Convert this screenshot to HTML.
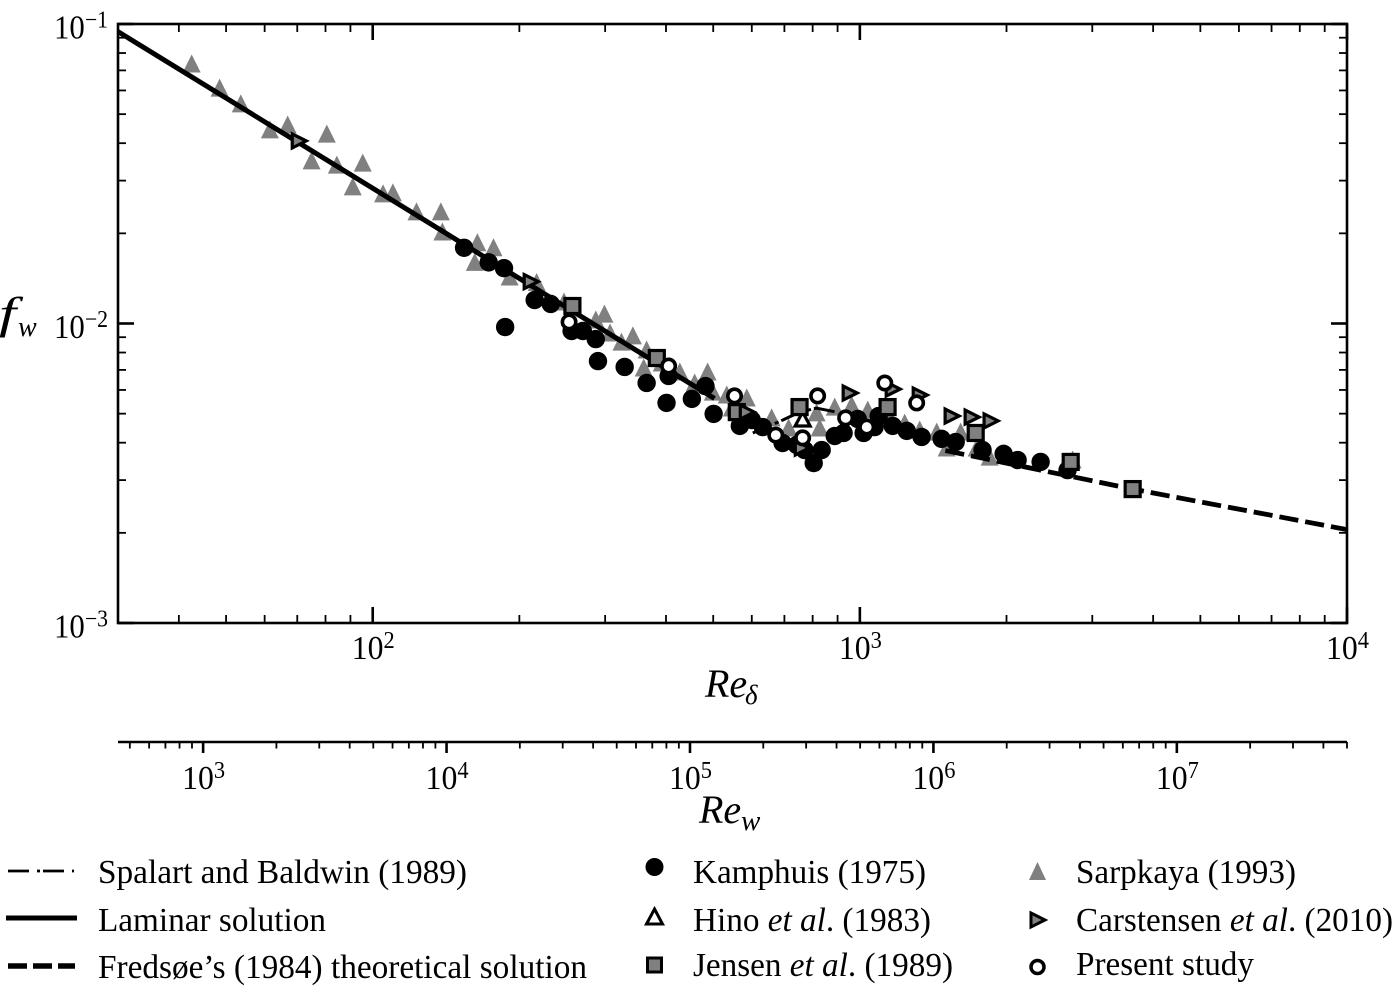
<!DOCTYPE html>
<html lang="en">
<head>
<meta charset="utf-8">
<title>Friction factor versus Reynolds number</title>
<style>
html,body{margin:0;padding:0;background:#fff;}
svg{display:block;}
text{font-family:"Liberation Serif","DejaVu Serif",serif;fill:#000;}
</style>
</head>
<body>
<svg id="chart" xmlns="http://www.w3.org/2000/svg" width="1394" height="989" viewBox="0 0 1394 989">
  <rect x="0" y="0" width="1394" height="989" fill="#fff"/>
  <g id="marks"></g>
  <rect x="118" y="24" width="1229" height="599" fill="none" stroke="#000" stroke-width="2.6"/>
  <g id="axes" stroke="#000"></g>
  <g id="ticklabels"></g>

  <text font-style="italic" font-size="44" transform="translate(-1 328) scale(1.4 1)">f</text>
  <text font-style="italic" font-size="28" x="18" y="336">w</text>
  <text font-style="italic"><tspan x="705" y="697" font-size="40">Re</tspan><tspan x="745" y="704" font-size="27">δ</tspan></text>
  <text font-style="italic"><tspan x="699" y="823" font-size="40">Re</tspan><tspan x="741" y="830" font-size="29">w</tspan></text>

  <g font-size="33.5">
    <line x1="8" y1="871" x2="74" y2="871" stroke="#000" stroke-width="2.8" stroke-dasharray="21 8 3 3"/>
    <text x="98" y="883" textLength="369" lengthAdjust="spacingAndGlyphs">Spalart and Baldwin (1989)</text>
    <line x1="6" y1="918" x2="77" y2="918" stroke="#000" stroke-width="5"/>
    <text x="98" y="931" textLength="228" lengthAdjust="spacingAndGlyphs">Laminar solution</text>
    <line x1="8" y1="966" x2="75" y2="966" stroke="#000" stroke-width="5.4" stroke-dasharray="19 6"/>
    <text x="98" y="978" textLength="489" lengthAdjust="spacingAndGlyphs">Fredsøe’s (1984) theoretical solution</text>

    <circle cx="654.5" cy="867" r="9" fill="#000"/>
    <text x="693" y="883" textLength="233" lengthAdjust="spacingAndGlyphs">Kamphuis (1975)</text>
    <path d="M654.5 909 L662.5 924 L646.5 924 Z" fill="#fff" stroke="#000" stroke-width="3"/>
    <text x="693" y="931" textLength="238" lengthAdjust="spacingAndGlyphs">Hino <tspan font-style="italic">et al</tspan>. (1983)</text>
    <rect x="647.5" y="958" width="14" height="14" fill="#808080" stroke="#000" stroke-width="3"/>
    <text x="693" y="976" textLength="260" lengthAdjust="spacingAndGlyphs">Jensen <tspan font-style="italic">et al</tspan>. (1989)</text>

    <path d="M1037.5 862 L1046 880 L1029 880 Z" fill="#808080"/>
    <text x="1076" y="883" textLength="220" lengthAdjust="spacingAndGlyphs">Sarpkaya (1993)</text>
    <path d="M1031 913 L1045 920 L1031 927 Z" fill="#808080" stroke="#000" stroke-width="3"/>
    <text x="1076" y="931" textLength="317" lengthAdjust="spacingAndGlyphs">Carstensen <tspan font-style="italic">et al</tspan>. (2010)</text>
    <circle cx="1037.5" cy="967" r="6.5" fill="#fff" stroke="#000" stroke-width="3.5"/>
    <text x="1076" y="975" textLength="178" lengthAdjust="spacingAndGlyphs">Present study</text>
  </g>
</svg>
<script>
// Data
const sarpkayaRe = [42.5,48.5,53.6,61.5,66.9,80.5,74.9,84.4,95.4,91,105,110,123,138,139,164,177,162,191,217,247,287,299,307,324,342,365,360,392,427,458,487,499,533,586,546,659,714,827,815,888,962,1038,1151,1236,1327,1438,1610,1737,1847,1507,2734];
const sarpkayaF = [.0735,.0611,.0541,.0443,.0460,.0429,.0349,.0338,.0343,.0286,.0271,.0273,.0236,.0236,.0202,.0186,.0179,.0160,.0143,.0137,.0118,.01027,.01075,.00930,.00867,.00909,.00816,.00710,.00738,.00689,.00633,.00689,.00590,.00577,.00564,.00522,.00484,.00448,.00448,.00503,.00526,.00534,.00514,.00487,.00465,.00441,.00434,.00434,.00384,.00358,.00384,.00350];
const kamphuisRe = [154,173,186,187,215,232,256,270,287,290,329,365,401,405,452,482,501,567,600,632,694,742,770,835,804,888,926,990,1018,1072,1093,1168,1248,1339,1472,1573,1786,1973,2108,2350,2669];
const kamphuisF = [.0179,.0160,.0153,.00973,.01198,.01162,.00944,.00944,.00887,.00749,.00716,.00633,.00543,.00668,.00560,.00618,.00499,.00455,.00476,.00451,.00399,.00393,.00378,.00378,.00342,.00421,.00431,.00480,.00431,.00451,.00491,.00455,.00438,.00418,.00412,.00402,.00378,.00367,.00350,.00345,.00324];
const hinoRe = [763];
const hinoF = [.00480];
const jensenRe = [257,383,559,752,1140,1729,2709,3631];
const jensenF = [.01144,.00767,.00506,.00526,.00526,.00431,.00345,.0028];
const carstensenRe = [70.5,211,586,760,953,1168,1327,1543,1696,1855];
const carstensenF = [.0407,.0138,.00506,.00384,.00586,.00604,.00577,.00491,.00487,.00473];
const presentRe = [253,405,553,672,763,819,935,1033,1125,1308];
const presentF = [.01012,.00721,.00573,.00424,.00415,.00573,.00484,.00451,.00633,.00543];
const laminarRe = [30,503];
const laminarF = [.0943,.00562];
const fredsoeRe = [1479,3631,10000];
const fredsoeF = [.00378,.0028,.00205];
const spalartRe = [603,694,752,815,896,1047];
const spalartF = [.00431,.00476,.00506,.00522,.00506,.00458];
const xTickExponents = [2,3,4];
const yTickExponents = [-1,-2,-3];
const lowerTickExponents = [3,4,5,6,7];
const xDomain = [30,10000];
const yDomain = [.1,.001];
const lowerDomain = [447,50000000];

const NS = 'http://www.w3.org/2000/svg';
const marks = document.getElementById('marks');
const axes = document.getElementById('axes');
const labels = document.getElementById('ticklabels');

function logScale(domain, r0, r1) {
  const a = Math.log10(domain[0]), b = Math.log10(domain[1]);
  return function (v) { return r0 + (Math.log10(v) - a) / (b - a) * (r1 - r0); };
}
const xScale = logScale(xDomain, 118, 1347);
const yScale = logScale(yDomain, 24, 623);
const lowerScale = logScale(lowerDomain, 118, 1347);

function make(tag, attrs, parent) {
  const el = document.createElementNS(NS, tag);
  for (const k in attrs) el.setAttribute(k, attrs[k]);
  parent.appendChild(el);
  return el;
}
function linePath(xs, ys) {
  return xs.map(function (v, i) { return (i ? 'L' : 'M') + xScale(v).toFixed(1) + ' ' + yScale(ys[i]).toFixed(1); }).join(' ');
}

// Sarpkaya triangles
sarpkayaRe.forEach(function (re, i) {
  const x = xScale(re), y = yScale(sarpkayaF[i]);
  const el = make('path', { d: 'M' + x + ' ' + (y - 9.5) + ' L' + (x + 9) + ' ' + (y + 8.5) + ' L' + (x - 9) + ' ' + (y + 8.5) + ' Z', fill: '#808080' }, marks);
  
  
});

// Reference curves
const spalartLine = make('path', { d: linePath(spalartRe, spalartF), fill: 'none', stroke: '#000', 'stroke-width': 3, 'stroke-dasharray': '21 7 4 3', 'stroke-dashoffset': 4 }, marks);


const laminarLine = make('path', { d: linePath(laminarRe, laminarF), fill: 'none', stroke: '#000', 'stroke-width': 5 }, marks);


const fredsoeLine = make('path', { d: linePath(fredsoeRe, fredsoeF), fill: 'none', stroke: '#000', 'stroke-width': 4.8, 'stroke-dasharray': '19.2 7', 'stroke-dashoffset': 23.5 }, marks);



// Kamphuis circles
kamphuisRe.forEach(function (re, i) {
  const el = make('circle', { cx: xScale(re), cy: yScale(kamphuisF[i]), r: 9.2, fill: '#000' }, marks);
  
  
});

// Hino open triangles
hinoRe.forEach(function (re, i) {
  const x = xScale(re), y = yScale(hinoF[i]);
  const el = make('path', { d: 'M' + x + ' ' + (y - 7) + ' L' + (x + 7.5) + ' ' + (y + 7) + ' L' + (x - 7.5) + ' ' + (y + 7) + ' Z', fill: '#fff', stroke: '#000', 'stroke-width': 3.2 }, marks);
  
  
});

// Jensen squares
jensenRe.forEach(function (re, i) {
  const x = xScale(re), y = yScale(jensenF[i]);
  const el = make('rect', { x: x - 7.5, y: y - 7.5, width: 15, height: 15, fill: '#808080', stroke: '#000', 'stroke-width': 3.2 }, marks);
  
  
});

// Carstensen right-pointing triangles
carstensenRe.forEach(function (re, i) {
  const x = xScale(re), y = yScale(carstensenF[i]);
  const el = make('path', { d: 'M' + (x - 6.5) + ' ' + (y - 7) + ' L' + (x + 7.5) + ' ' + y + ' L' + (x - 6.5) + ' ' + (y + 7) + ' Z', fill: '#808080', stroke: '#000', 'stroke-width': 3.2 }, marks);
  
  
});

// Present study open circles
presentRe.forEach(function (re, i) {
  const el = make('circle', { cx: xScale(re), cy: yScale(presentF[i]), r: 6.7, fill: '#fff', stroke: '#000', 'stroke-width': 3.6 }, marks);
  
  
});

// Ticks
function eachTick(domain, fn) {
  const lo = Math.floor(Math.log10(domain[0]) + 1e-9), hi = Math.ceil(Math.log10(domain[1]) - 1e-9);
  for (let e = lo; e <= hi; e++) {
    for (let m = 1; m <= 9; m++) {
      const v = m * Math.pow(10, e);
      if (v >= domain[0] * 0.999 && v <= domain[1] * 1.001) fn(v, m === 1);
    }
  }
}
function tick(x1, y1, x2, y2, major, name) {
  const el = make('line', { x1: x1, y1: y1, x2: x2, y2: y2, 'stroke-width': major ? 2.6 : 1.8 }, axes);
  
  
}
eachTick(xDomain, function (v, major) {
  const x = xScale(v), len = major ? 16 : 8;
  tick(x, 623, x, 623 - len, major, 'x-axis-tick');
  tick(x, 24, x, 24 + len, major, 'x-axis-top-tick');
});
eachTick([.001, .1], function (v, major) {
  const y = yScale(v), len = major ? 16 : 8;
  tick(118, y, 118 + len, y, major, 'y-axis-tick');
  tick(1347, y, 1347 - len, y, major, 'y-axis-right-tick');
});
const lowerLine = make('line', { x1: 118, y1: 742, x2: 1347, y2: 742, 'stroke-width': 2.6 }, axes);


eachTick(lowerDomain, function (v, major) {
  const x = lowerScale(v);
  tick(x, 742, x, 742 + (major ? 11 : 6.5), major, 'lower-axis-tick');
});

// Tick labels
function powerLabel(x, y, exponent, name) {
  const t = make('text', { x: x, y: y, 'font-size': 34, textLength: exponent < 0 ? 54 : 43, lengthAdjust: 'spacingAndGlyphs' }, labels);
  
  
  t.appendChild(document.createTextNode('10'));
  const s = make('tspan', { 'font-size': 24, dy: -11 }, t);
  s.textContent = exponent < 0 ? '\u2212' + (-exponent) : String(exponent);
}
xTickExponents.forEach(function (e) {
  powerLabel(xScale(Math.pow(10, e)) - 21, 659, e, 'x-tick-label');
});
yTickExponents.forEach(function (e) {
  powerLabel(54, yScale(Math.pow(10, e)) + 14.5, e, 'y-tick-label');
});
lowerTickExponents.forEach(function (e) {
  powerLabel(lowerScale(Math.pow(10, e)) - 21, 789, e, 'lower-tick-label');
});
</script>
</body>
</html>
